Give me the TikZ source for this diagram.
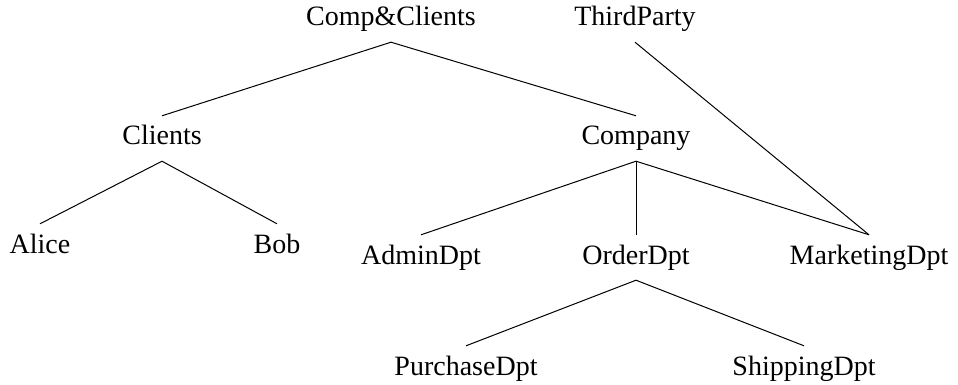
\documentclass[tikz,border=0pt]{standalone}
\usepackage{fontspec}
\setmainfont{Liberation Serif}
\begin{document}
\begin{tikzpicture}[x=1pt,y=-1pt,
  lbl/.style={anchor=base,inner sep=8pt,text height=21pt,text depth=8pt,font=\fontsize{28}{32}\selectfont},
  edge/.style={draw=black,line width=1pt}]
\useasboundingbox (0,0) rectangle (958,385);
\node[lbl] (cc) at (391,26) {Comp\&Clients};
\node[lbl] (tp) at (635,26) {ThirdParty};
\node[lbl] (clients) at (162,145) {Clients};
\node[lbl] (company) at (636,145) {Company};
\node[lbl] (alice) at (40,253) {Alice};
\node[lbl] (bob) at (277,253) {Bob};
\node[lbl] (admin) at (421,264) {AdminDpt};
\node[lbl] (order) at (636,264) {OrderDpt};
\node[lbl] (marketing) at (869,264) {MarketingDpt};
\node[lbl] (purchase) at (466,375) {PurchaseDpt};
\node[lbl] (shipping) at (804,375) {ShippingDpt};
\draw[edge] (clients.north) -- (cc.south) -- (company.north);
\draw[edge] (tp.south) -- (marketing.north);
\draw[edge] (alice.north) -- (clients.south) -- (bob.north);
\draw[edge] (admin.north) -- (company.south) -- (marketing.north);
\draw[edge] (company.south) -- (order.north);
\draw[edge] (purchase.north) -- (order.south) -- (shipping.north);
\end{tikzpicture}
\end{document}
